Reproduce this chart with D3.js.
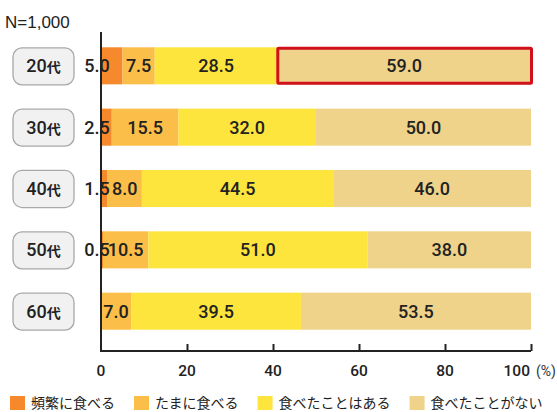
<!DOCTYPE html>
<html><head><meta charset="utf-8">
<script src="https://cdn.jsdelivr.net/npm/d3@7"></script>
<style>
html,body{margin:0;padding:0;background:#fff;}
svg{display:block;}
</style></head>
<body>
<svg id="chart" width="557" height="412"></svg>
<script>
const categories = ["20代","30代","40代","50代","60代"];
const seriesNames = ["頻繁に食べる","たまに食べる","食べたことはある","食べたことがない"];
const frequent = [5.0, 2.5, 1.5, 0.5, 0.0];
const sometimes = [7.5, 15.5, 8.0, 10.5, 7.0];
const tried = [28.5, 32.0, 44.5, 51.0, 39.5];
const never = [59.0, 50.0, 46.0, 38.0, 53.5];
const tickValues = [0, 20, 40, 60, 80, 100];
const colors = ["#f5892b", "#fbbe48", "#fee53e", "#efd38a"];
const sampleLabel = "N=1,000";
const highlight = {category: "20代", series: 3};

const numFont = "Roboto, 'DejaVu Sans Condensed', sans-serif";
const jpFont = "'Noto Sans CJK JP', sans-serif";

const svg = d3.select("#chart");
const x = d3.scaleLinear().domain([0, 100]).range([101, 531]);
const y = d3.scaleBand().domain(categories).range([23, 354]).padding(0.396);

const rows = categories.map((c, i) => {
  const vals = [frequent[i], sometimes[i], tried[i], never[i]];
  let acc = 0;
  return {cat: c, segs: vals.map((v, k) => { const s = {k, v, x0: acc, x1: acc + v, cat: c}; acc += v; return s; })};
});

// N label
svg.append("text").attr("x", 5).attr("y", 28).attr("font-family", "'Liberation Sans', Arial, sans-serif")
  .attr("font-size", 17).attr("fill", "#222").text(sampleLabel);

// bars
const g = svg.append("g");
rows.forEach(r => {
  g.selectAll(null).data(r.segs.filter(s => s.v > 0)).enter().append("rect")
    .attr("x", s => x(s.x0)).attr("y", y(r.cat))
    .attr("width", s => x(s.x1) - x(s.x0)).attr("height", y.bandwidth())
    .attr("fill", s => colors[s.k]);
});

// highlight box
{
  const r = rows[categories.indexOf(highlight.category)];
  const s = r.segs[highlight.series];
  svg.append("rect").attr("x", x(s.x0) + 0.5).attr("y", y(r.cat) + 1)
    .attr("width", x(s.x1) - x(s.x0)).attr("height", y.bandwidth() - 2)
    .attr("fill", "none").attr("stroke", "#d0111c").attr("stroke-width", 3).attr("rx", 1);
}

// axes
svg.append("line").attr("x1", x(0)).attr("x2", x(0)).attr("y1", 32).attr("y2", 352)
  .attr("stroke", "#222").attr("stroke-width", 2);
const xAxis = d3.axisBottom(x).tickValues(tickValues).tickSize(-7).tickFormat("");
const ax = svg.append("g").attr("transform", "translate(0,351)").call(xAxis);
ax.select(".domain").attr("stroke", "#222").attr("stroke-width", 2).attr("d", `M${x(0)},0H${x(100)}`);
ax.selectAll(".tick line").attr("stroke", "#222").attr("stroke-width", 2);
ax.selectAll(".tick").filter(d => d === 0).select("line").remove();
// tick labels
const last = tickValues[tickValues.length - 1];
svg.selectAll(null).data(tickValues).enter().append("text")
  .attr("x", d => d === last ? x(d) - 1 : x(d)).attr("y", 376)
  .attr("text-anchor", d => d === last ? "end" : "middle")
  .attr("font-family", numFont).attr("font-weight", 500).attr("font-size", 15.5).attr("fill", "#222")
  .text(d => d);
svg.append("text").attr("x", x(last) + 5).attr("y", 376).attr("font-family", numFont)
  .attr("font-size", 14).attr("fill", "#333").text("(%)");

// category boxes
rows.forEach(r => {
  const by = y(r.cat);
  svg.append("rect").attr("x", 13).attr("y", by + 0.5).attr("width", 61).attr("height", y.bandwidth())
    .attr("rx", 9).attr("fill", "#f1f1f1").attr("stroke", "#a8a8a8").attr("stroke-width", 1.3);
  const t = svg.append("text").attr("x", 43.5).attr("y", by + y.bandwidth() / 2 + 6.5)
    .attr("text-anchor", "middle").attr("fill", "#222");
  t.append("tspan").attr("font-family", numFont).attr("font-weight", 500).attr("font-size", 18).text(r.cat.slice(0, 2));
  t.append("tspan").attr("font-family", jpFont).attr("font-size", 14).attr("font-weight", 700).text(r.cat.slice(2));
});

// value labels
rows.forEach(r => {
  r.segs.forEach(s => {
    if (s.v <= 0) return;
    const cx = s.k === 0 ? x(0) - 4 : (x(s.x0) + x(s.x1)) / 2;
    svg.append("text").attr("x", cx).attr("y", y(r.cat) + y.bandwidth() / 2 + 6.5)
      .attr("text-anchor", "middle").attr("font-family", numFont).attr("font-weight", 500).attr("font-size", 18)
      .attr("fill", "#222").text(s.v.toFixed(1));
  });
});

// legend
const lg = svg.append("g");
let lx = 10;
seriesNames.forEach((n, i) => {
  lg.append("rect").attr("x", lx).attr("y", 396).attr("width", 15).attr("height", 14).attr("fill", colors[i]);
  const t = lg.append("text").attr("x", lx + 21).attr("y", 408).attr("font-family", jpFont)
    .attr("font-size", 14).attr("fill", "#222").text(n);
  lx += 21 + t.node().getComputedTextLength() + 19;
});
</script>
</body></html>
